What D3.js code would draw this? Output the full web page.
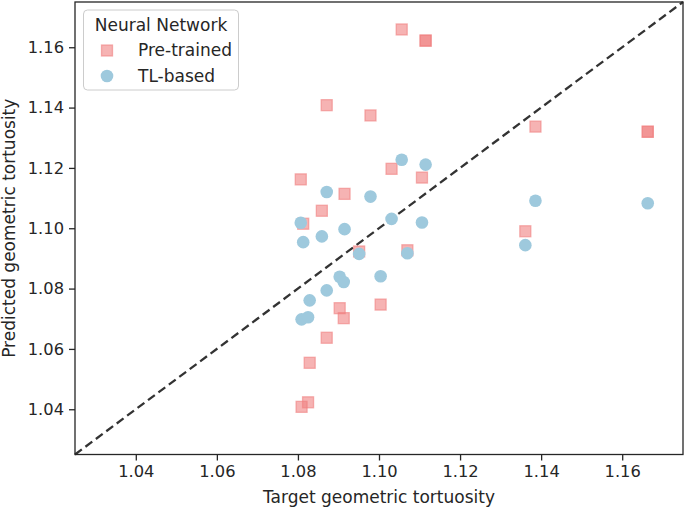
<!DOCTYPE html>
<html><head><meta charset="utf-8">
<script src="https://cdn.jsdelivr.net/npm/d3@7"></script>
<style>
body{margin:0;background:#fff;}
text{font-family:"DejaVu Sans",sans-serif;fill:#262626;}
</style></head>
<body><svg id="c" width="685" height="508"></svg>
<script>
// Target geometric tortuosity values (shared by both networks)
const targets = [1.1056,1.1115,1.1115,1.0871,1.0979,1.1031,1.1106,1.0807,1.0915,1.0859,1.0813,1.0951,1.1070,1.1004,1.0903,1.0913,1.0871,1.0829,1.0825,1.0809,1.1386,1.1663,1.1663,1.1361];
const pretrained = [1.1659,1.1622,1.1622,1.1408,1.1374,1.1197,1.1168,1.1162,1.1114,1.1058,1.1015,1.0923,1.0927,1.0747,1.0735,1.0702,1.0637,1.0554,1.0423,1.0408,1.1337,1.1320,1.1320,1.0990];
const tlTargets = [1.1056,1.1115,1.0871,1.0979,1.1031,1.1106,1.0807,1.0915,1.0859,1.0813,1.0951,1.1070,1.0903,1.0913,1.1004,1.0871,1.0829,1.0809,1.0825,1.1386,1.1663,1.1361];
const tlBased = [1.1227,1.1211,1.1120,1.1105,1.1031,1.1019,1.1018,1.0997,1.0973,1.0954,1.0915,1.0917,1.0839,1.0822,1.0841,1.0794,1.0761,1.0698,1.0705,1.1091,1.1083,1.0944];
const tickValues = [1.04,1.06,1.08,1.10,1.12,1.14,1.16];
const domain = [1.025,1.175];
const seriesNames = ["Pre-trained","TL-based"];

const svg = d3.select("#c");
const L=75, R=683, T=2, B=454.5;
const x = d3.scaleLinear().domain(domain).range([L,R]);
const y = d3.scaleLinear().domain(domain).range([B,T]);
const fmt = d3.format(".2f");

// diagonal
svg.append("line")
  .attr("x1",x(domain[0])).attr("y1",y(domain[0]))
  .attr("x2",x(domain[1])).attr("y2",y(domain[1]))
  .attr("stroke","#333").attr("stroke-width",2.3).attr("stroke-dasharray","8.5,4.5");

// Pre-trained squares
const s = 11;
svg.append("g").selectAll("rect").data(pretrained).join("rect")
  .attr("x",(d,i)=>x(targets[i])-s/2).attr("y",d=>y(d)-s/2)
  .attr("width",s).attr("height",s)
  .attr("fill","#f08080").attr("fill-opacity",0.6)
  .attr("stroke","#f08080").attr("stroke-opacity",0.6).attr("stroke-width",1.3);

// TL-based circles
svg.append("g").selectAll("circle").data(tlBased).join("circle")
  .attr("cx",(d,i)=>x(tlTargets[i])).attr("cy",d=>y(d)).attr("r",6.3)
  .attr("fill","#9ec9dd");

// frame
svg.append("rect").attr("x",L).attr("y",T).attr("width",R-L).attr("height",B-T)
  .attr("fill","none").attr("stroke","#262626").attr("stroke-width",1.3);

// axes
const xa = svg.append("g").attr("transform",`translate(0,${B})`)
  .call(d3.axisBottom(x).tickValues(tickValues).tickFormat(fmt).tickSizeOuter(0).tickSize(6).tickPadding(5));
const ya = svg.append("g").attr("transform",`translate(${L},0)`)
  .call(d3.axisLeft(y).tickValues(tickValues).tickFormat(fmt).tickSizeOuter(0).tickSize(6).tickPadding(5));
[xa,ya].forEach(a=>{
  a.select(".domain").remove();
  a.selectAll(".tick line").attr("stroke","#262626").attr("stroke-width",1.3);
  a.selectAll(".tick text").attr("font-size",16.3).attr("font-family","DejaVu Sans").attr("fill","#262626");
});

svg.append("text").attr("x",(L+R)/2).attr("y",503).attr("text-anchor","middle")
  .attr("font-size",17).text("Target geometric tortuosity");
svg.append("text").attr("transform",`translate(15,${(T+B)/2}) rotate(-90)`).attr("text-anchor","middle")
  .attr("font-size",17).text("Predicted geometric tortuosity");

// legend
const lg = svg.append("g");
lg.append("rect").attr("x",83.5).attr("y",10).attr("width",155).attr("height",80).attr("rx",4)
  .attr("fill","#fff").attr("fill-opacity",0.8).attr("stroke","#ccc").attr("stroke-width",1);
lg.append("text").attr("x",161).attr("y",31).attr("text-anchor","middle").attr("font-size",17).text("Neural Network");
lg.append("rect").attr("x",107-s/2).attr("y",50.5-s/2).attr("width",s).attr("height",s)
  .attr("fill","#f08080").attr("fill-opacity",0.6).attr("stroke","#f08080").attr("stroke-opacity",0.6).attr("stroke-width",1.3);
lg.append("circle").attr("cx",107).attr("cy",76).attr("r",6.3).attr("fill","#9ec9dd");
lg.append("text").attr("x",138).attr("y",56).attr("font-size",17).text(seriesNames[0]);
lg.append("text").attr("x",138).attr("y",82).attr("font-size",17).text(seriesNames[1]);
</script></body></html>
